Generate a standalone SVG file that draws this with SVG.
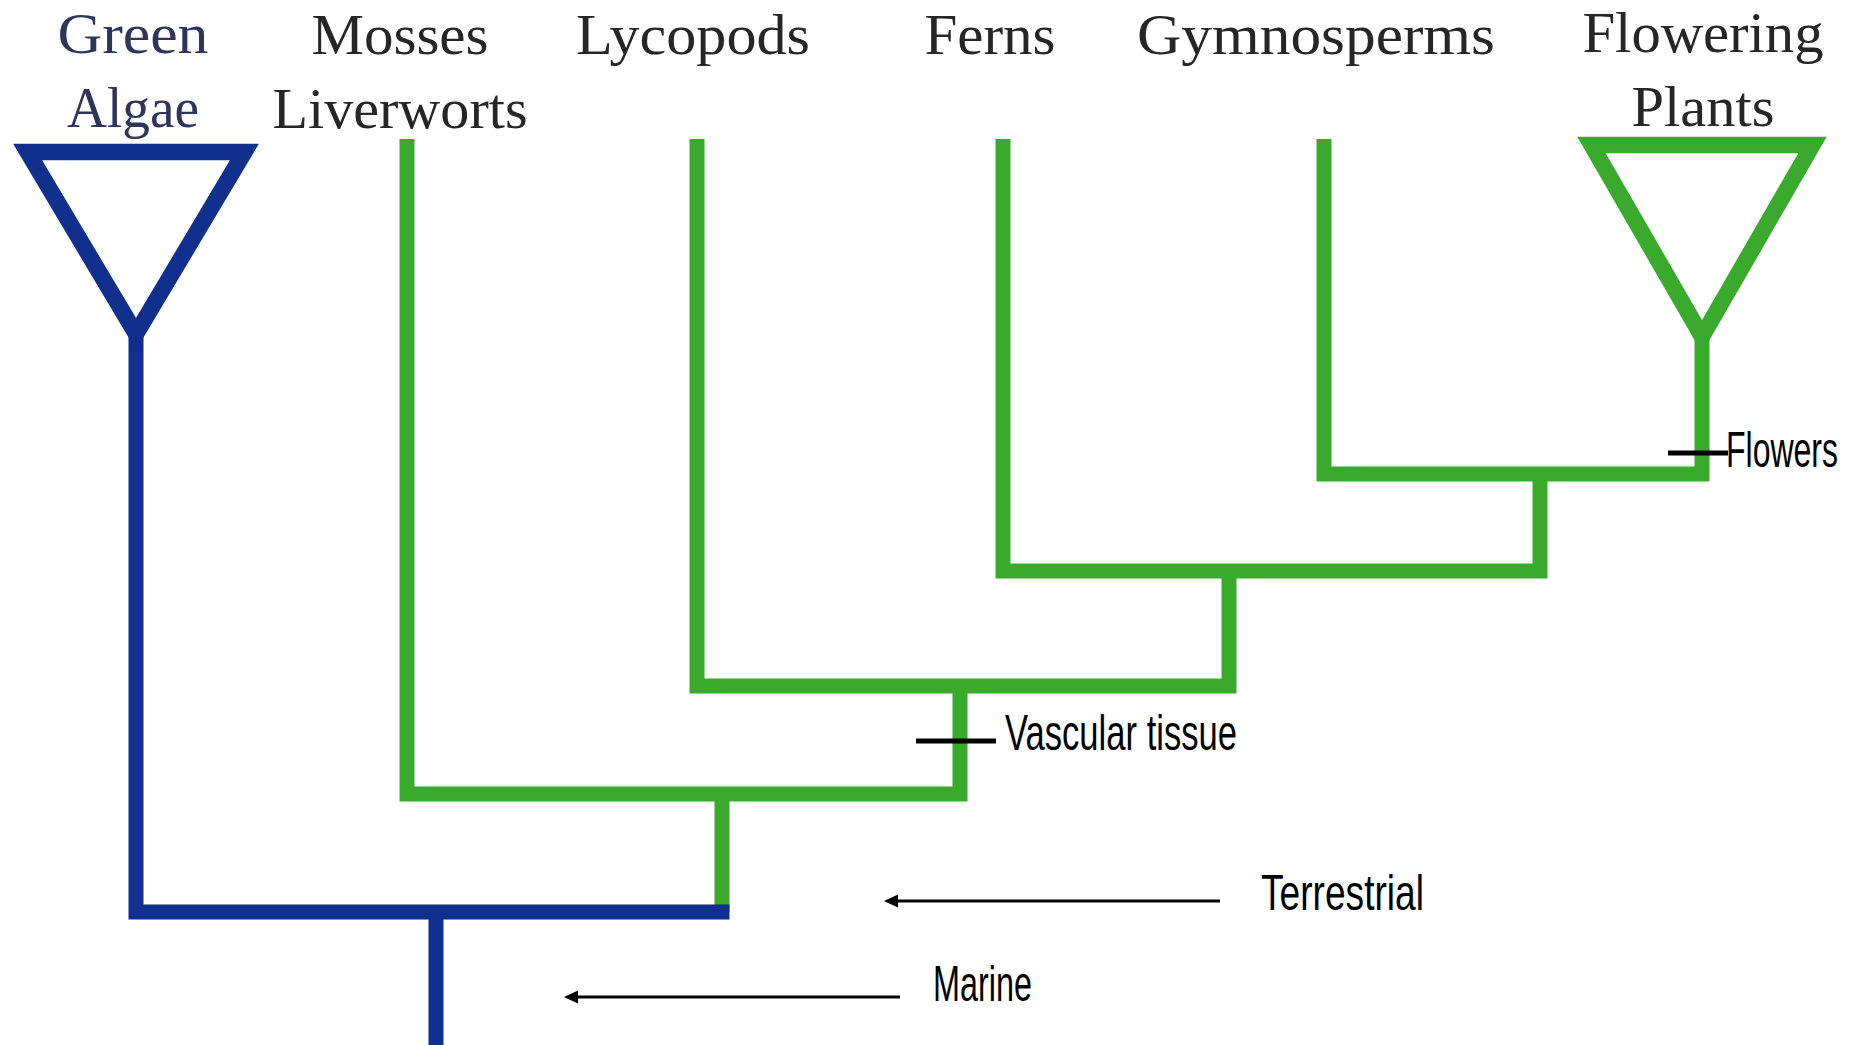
<svg xmlns="http://www.w3.org/2000/svg" width="1857" height="1045" viewBox="0 0 1857 1045">
<style>
.hdr{font-family:"Liberation Serif","Times New Roman",serif;font-size:56px;fill:#262626;text-anchor:middle}
.blue-hdr{fill:#2f3558}
.lbl{font-family:"Liberation Sans Narrow","Liberation Sans",sans-serif;font-size:50px;fill:#000}
.blue{fill:none;stroke:#112f8c;stroke-width:15;stroke-linejoin:miter;stroke-miterlimit:4}
.green{fill:none;stroke:#3aaa2c;stroke-width:15;stroke-linejoin:miter;stroke-miterlimit:4}
.tri{stroke-width:16.5}
.tick{stroke:#000;stroke-width:5}
.arrow{stroke:#000;stroke-width:3;fill:none}
</style>
<rect width="1857" height="1045" fill="#fff"/>
<g id="connectors">
<path class="green" d="M722,794 V912"/>
<path class="green" d="M407,139 V794 H960 V686"/>
<path class="green" d="M697,139 V686 H1229 V571"/>
<path class="green" d="M1003,139 V571 H1540 V474"/>
<path class="green" d="M1324,139 V474 H1702 V330"/>
<path class="blue" d="M136,328 V912 H729.5"/>
<path class="blue" d="M436,912 V1045"/>
<line class="arrow" x1="1220" y1="901" x2="896" y2="901"/>
<path d="M884,901 L898,894.5 L898,907.5 z" fill="#000"/>
<line class="arrow" x1="900" y1="997" x2="576" y2="997"/>
<path d="M564,997 L578,990.5 L578,1003.5 z" fill="#000"/>
<line class="tick" x1="1668" y1="453" x2="1728" y2="453"/>
<line class="tick" x1="916" y1="741" x2="996" y2="741"/>
</g>
<g id="green-algae">
<polygon class="blue tri" points="27.6,152 244.4,152 136,334"/>
<text class="hdr blue-hdr" x="133" y="53" textLength="151" lengthAdjust="spacingAndGlyphs">Green</text>
<text class="hdr blue-hdr" x="133" y="127" textLength="132" lengthAdjust="spacingAndGlyphs">Algae</text>
</g>
<g id="mosses">
<text class="hdr" x="400" y="54" textLength="177" lengthAdjust="spacingAndGlyphs">Mosses</text>
<text class="hdr" x="400" y="128" textLength="255" lengthAdjust="spacingAndGlyphs">Liverworts</text>
</g>
<g id="lycopods">
<text class="hdr" x="693" y="54" textLength="234" lengthAdjust="spacingAndGlyphs">Lycopods</text>
</g>
<g id="ferns">
<text class="hdr" x="990" y="54" textLength="131" lengthAdjust="spacingAndGlyphs">Ferns</text>
</g>
<g id="gymnosperms">
<text class="hdr" x="1316" y="54" textLength="358" lengthAdjust="spacingAndGlyphs">Gymnosperms</text>
</g>
<g id="flowering-plants">
<polygon class="green tri" points="1591.5,145 1812.5,145 1702,336.5"/>
<text class="hdr" x="1703" y="52" textLength="241" lengthAdjust="spacingAndGlyphs">Flowering</text>
<text class="hdr" x="1703" y="126" textLength="143" lengthAdjust="spacingAndGlyphs">Plants</text>
</g>
<g id="labels">
<text class="lbl" transform="translate(1726,467) scale(0.64,1)" x="0" y="0" textLength="175" lengthAdjust="spacingAndGlyphs">Flowers</text>
<text class="lbl" x="1005" y="750" textLength="232" lengthAdjust="spacingAndGlyphs">Vascular tissue</text>
<text class="lbl" x="1261" y="910" textLength="163" lengthAdjust="spacingAndGlyphs">Terrestrial</text>
<text class="lbl" x="933" y="1001" textLength="99" lengthAdjust="spacingAndGlyphs">Marine</text>
</g>
</svg>
